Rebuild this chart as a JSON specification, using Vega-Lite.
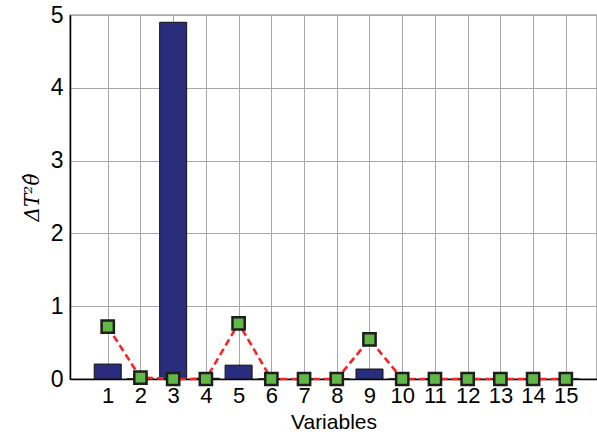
{
  "$schema": "https://vega.github.io/schema/vega-lite/v6.json",
  "autosize": "none",
  "width": 527,
  "height": 364,
  "padding": {"left": 70, "top": 15, "right": 0, "bottom": 57},
  "background": "white",
  "config": {
    "view": {"stroke": "black", "strokeWidth": 1.2},
    "axis": {
      "labelFont": "Liberation Sans",
      "titleFont": "Liberation Sans",
      "labelColor": "black",
      "titleColor": "black",
      "domainColor": "black",
      "domainWidth": 1.5,
      "gridColor": "#a8a8a8",
      "gridOpacity": 1,
      "gridWidth": 1,
      "tickColor": "black"
    }
  },
  "data": {
    "values": [
      {"Variable": 1, "bar": 0.205, "marker": 0.72},
      {"Variable": 2, "bar": 0.0, "marker": 0.02},
      {"Variable": 3, "bar": 4.9, "marker": 0.0},
      {"Variable": 4, "bar": 0.01, "marker": 0.0},
      {"Variable": 5, "bar": 0.19, "marker": 0.765},
      {"Variable": 6, "bar": 0.0, "marker": 0.0},
      {"Variable": 7, "bar": 0.0, "marker": 0.0},
      {"Variable": 8, "bar": 0.0, "marker": 0.0},
      {"Variable": 9, "bar": 0.137, "marker": 0.545},
      {"Variable": 10, "bar": 0.0, "marker": 0.0},
      {"Variable": 11, "bar": 0.0, "marker": 0.0},
      {"Variable": 12, "bar": 0.0, "marker": 0.0},
      {"Variable": 13, "bar": 0.0, "marker": 0.0},
      {"Variable": 14, "bar": 0.0, "marker": 0.0},
      {"Variable": 15, "bar": 0.0, "marker": 0.0}
    ]
  },
  "encoding": {
    "x": {
      "field": "Variable",
      "type": "quantitative",
      "scale": {"domain": [0, 15.8], "nice": false, "zero": false},
      "axis": {
        "values": [1,2,3,4,5,6,7,8,9,10,11,12,13,14,15],
        "format": "d",
        "grid": true,
        "ticks": false,
        "labelFontSize": 22,
        "labelPadding": 6,
        "labelFlush": false,
        "title": "Variables",
        "titleFontSize": 21,
        "titleFontWeight": "normal",
        "titlePadding": 5
      }
    }
  },
  "layer": [
    {
      "mark": {"type": "bar", "size": 27, "color": "#2a2d7c", "stroke": "#111", "strokeWidth": 1},
      "encoding": {
        "y": {
          "field": "bar",
          "type": "quantitative",
          "scale": {"domain": [0, 5], "nice": false},
          "axis": {
            "values": [0,1,2,3,4,5],
            "format": "d",
            "grid": true,
            "ticks": false,
            "labelFontSize": 23,
            "labelPadding": 7,
            "labelFlush": false,
            "title": "ΔT²θ̂",
            "titleFont": "DejaVu Serif",
            "titleFontStyle": "italic",
            "titleFontWeight": "normal",
            "titleFontSize": 20,
            "titlePadding": 8
          }
        }
      }
    },
    {
      "mark": {"type": "line", "color": "#ff2020", "strokeWidth": 2.6, "strokeDash": [7, 4]},
      "encoding": {"y": {"field": "marker", "type": "quantitative"}}
    },
    {
      "mark": {"type": "point", "shape": "square", "size": 150, "filled": true, "fill": "#62b846", "stroke": "#1e1e1e", "strokeWidth": 2.5, "opacity": 1},
      "encoding": {"y": {"field": "marker", "type": "quantitative"}}
    }
  ]
}
